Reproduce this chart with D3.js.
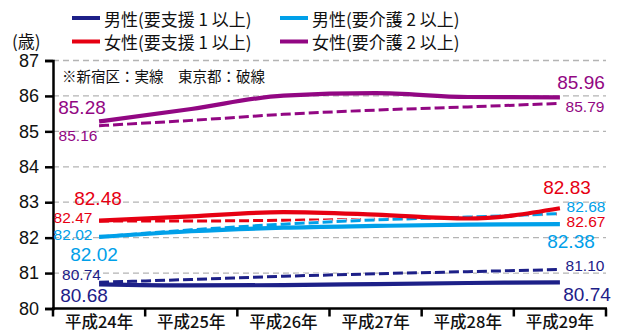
<!DOCTYPE html>
<html>
<head>
<meta charset="utf-8">
<script src="https://cdn.jsdelivr.net/npm/d3@7"></script>
<style>
  html, body { margin: 0; padding: 0; background: #fff; }
  svg { display: block; }
</style>
</head>
<body>
<svg id="chart" width="623" height="334"></svg>
<script>
// 年度（平成）
const years = ["平成24年", "平成25年", "平成26年", "平成27年", "平成28年", "平成29年"];
const yTicks = [80, 81, 82, 83, 84, 85, 86, 87];

// 新宿区（実線）
const maleSupport1Shinjuku = [80.68, 80.65, 80.66, 80.69, 80.72, 80.74];
const maleCare2Shinjuku    = [82.02, 82.18, 82.28, 82.33, 82.37, 82.38];
const femaleSupport1Shinjuku = [82.48, 82.60, 82.72, 82.65, 82.54, 82.83];
const femaleCare2Shinjuku  = [85.28, 85.63, 86.01, 86.08, 85.97, 85.96];

// 東京都（破線）
const maleSupport1Tokyo = [80.74, 80.82, 80.91, 80.98, 81.04, 81.10];
const maleCare2Tokyo    = [82.02, 82.22, 82.38, 82.50, 82.58, 82.68];
const femaleSupport1Tokyo = [82.47, 82.47, 82.49, 82.52, 82.58, 82.67];
const femaleCare2Tokyo  = [85.16, 85.31, 85.48, 85.60, 85.69, 85.79];

const legendLabels = ["男性(要支援 1 以上)", "男性(要介護 2 以上)", "女性(要支援 1 以上)", "女性(要介護 2 以上)"];
const colors = { navy: "#1d2088", blue: "#00a0e9", red: "#e60012", purple: "#920783" };

const svg = d3.select("#chart");
const plotLeft = 53, plotRight = 606, plotTop = 60.5, plotBottom = 308.5;

const x = d3.scaleBand().domain(years).range([plotLeft, plotRight]).padding(0);
const y = d3.scaleLinear().domain([80, 87]).range([plotBottom, plotTop]);
const cx = d => x(d) + x.bandwidth() / 2;

const numFont = "'Liberation Sans', Arial, sans-serif";
const jpFont = "'Noto Sans CJK JP', sans-serif";

// グリッド線
svg.append("g").selectAll("line")
  .data(yTicks.filter(t => t > 80))
  .join("line")
  .attr("x1", plotLeft).attr("x2", plotRight)
  .attr("y1", d => y(d)).attr("y2", d => y(d))
  .attr("stroke", "#b4b4b4").attr("stroke-width", 1.3)
  .attr("stroke-dasharray", "6,4");

// Y軸
const yAxis = svg.append("g")
  .attr("transform", `translate(${plotLeft},0)`)
  .call(d3.axisLeft(y).tickValues(yTicks).tickFormat(d3.format("d")).tickSize(8).tickPadding(6));
yAxis.select(".domain").attr("stroke", "#000").attr("stroke-width", 2.5);
yAxis.selectAll(".tick line").attr("stroke", "#000").attr("stroke-width", 2.5);
yAxis.selectAll(".tick text")
  .attr("font-family", numFont).attr("font-size", 18).attr("fill", "#111");

// X軸（区切りの目盛）
const xAxis = svg.append("g").attr("transform", `translate(0,${plotBottom})`);
xAxis.append("line").attr("x1", plotLeft - 1).attr("x2", plotRight + 1)
  .attr("stroke", "#000").attr("stroke-width", 2.5);
const bounds = years.map(d => x(d)).concat([plotRight]);
xAxis.selectAll("line.sep").data(bounds).join("line").attr("class", "sep")
  .attr("x1", d => d).attr("x2", d => d).attr("y1", 0).attr("y2", 8)
  .attr("stroke", "#000").attr("stroke-width", 2.5);
xAxis.selectAll("text").data(years).join("text")
  .attr("x", d => cx(d)).attr("y", 19.5)
  .attr("text-anchor", "middle")
  .attr("font-family", jpFont).attr("font-size", 16.5).attr("font-weight", 500)
  .attr("fill", "#111").text(d => d);

// 単位
svg.append("text").attr("x", 12).attr("y", 40)
  .attr("dominant-baseline", "central")
  .attr("font-family", jpFont).attr("font-size", 17).attr("fill", "#111").text("(歳)");

// 注記
svg.append("text").attr("x", 62).attr("y", 75)
  .attr("dominant-baseline", "central")
  .attr("font-family", jpFont).attr("font-size", 14.5).attr("fill", "#111")
  .text("※新宿区：実線　東京都：破線");

const line = d3.line().x((d, i) => cx(years[i])).y(d => y(d)).curve(d3.curveMonotoneX);

const dashed = [
  { v: maleSupport1Tokyo, c: colors.navy },
  { v: femaleSupport1Tokyo, c: colors.red },
  { v: maleCare2Tokyo, c: colors.blue },
  { v: femaleCare2Tokyo, c: colors.purple }
];
const solid = [
  { v: maleSupport1Shinjuku, c: colors.navy },
  { v: maleCare2Shinjuku, c: colors.blue },
  { v: femaleSupport1Shinjuku, c: colors.red },
  { v: femaleCare2Shinjuku, c: colors.purple }
];

// 東京都：破線（白い縁取り付き）
dashed.forEach(s => {
  svg.append("path").datum(s.v).attr("d", line)
    .attr("fill", "none").attr("stroke", "#fff").attr("stroke-width", 4.5)
    .attr("stroke-dasharray", "10,4");
  svg.append("path").datum(s.v).attr("d", line)
    .attr("fill", "none").attr("stroke", s.c).attr("stroke-width", 3)
    .attr("stroke-dasharray", "10,4");
});

// 新宿区：実線
solid.forEach(s => {
  svg.append("path").datum(s.v).attr("d", line)
    .attr("fill", "none").attr("stroke", s.c).attr("stroke-width", 4.2)
    .attr("stroke-linecap", "butt");
});

// 数値ラベル
const first = 0, last = years.length - 1;
const labels = [
  // 左端
  { val: femaleCare2Shinjuku[first], c: colors.purple, x: 82, y: 107, big: true },
  { val: femaleCare2Tokyo[first], c: colors.purple, x: 78, y: 135, big: false },
  { val: femaleSupport1Shinjuku[first], c: colors.red, x: 98, y: 198.5, big: true },
  { val: femaleSupport1Tokyo[first], c: colors.red, x: 73, y: 217.5, big: false },
  { val: maleCare2Tokyo[first], c: colors.blue, x: 73, y: 234.5, big: false },
  { val: maleCare2Shinjuku[first], c: colors.blue, x: 94, y: 254.5, big: true },
  { val: maleSupport1Tokyo[first], c: colors.navy, x: 81.5, y: 274, big: false },
  { val: maleSupport1Shinjuku[first], c: colors.navy, x: 84, y: 295, big: true },
  // 右端
  { val: femaleCare2Shinjuku[last], c: colors.purple, x: 581, y: 82.5, big: true },
  { val: femaleCare2Tokyo[last], c: colors.purple, x: 585, y: 106, big: false },
  { val: femaleSupport1Shinjuku[last], c: colors.red, x: 567, y: 187.5, big: true },
  { val: maleCare2Tokyo[last], c: colors.blue, x: 586, y: 206, big: false },
  { val: femaleSupport1Tokyo[last], c: colors.red, x: 586, y: 221.5, big: false },
  { val: maleCare2Shinjuku[last], c: colors.blue, x: 571, y: 241, big: true },
  { val: maleSupport1Tokyo[last], c: colors.navy, x: 585, y: 265.5, big: false },
  { val: maleSupport1Shinjuku[last], c: colors.navy, x: 587, y: 294.5, big: true }
];
svg.append("g").selectAll("text").data(labels).join("text")
  .attr("x", d => d.x).attr("y", d => d.y)
  .attr("text-anchor", "middle").attr("dominant-baseline", "central")
  .attr("font-family", numFont)
  .attr("font-size", d => d.big ? 19 : 15.5)
  .attr("fill", d => d.c)
  .text(d => d3.format(".2f")(d.val));

// 凡例
const legendItems = [
  { label: legendLabels[0], c: colors.navy, x: 72, y: 18 },
  { label: legendLabels[1], c: colors.blue, x: 280, y: 18 },
  { label: legendLabels[2], c: colors.red, x: 72, y: 41.5 },
  { label: legendLabels[3], c: colors.purple, x: 280, y: 41.5 }
];
const lg = svg.append("g").selectAll("g").data(legendItems).join("g")
  .attr("transform", d => `translate(${d.x},${d.y})`);
lg.append("line").attr("x1", 0).attr("x2", 28)
  .attr("stroke", d => d.c).attr("stroke-width", 4);
lg.append("text").attr("x", 32).attr("y", 0)
  .attr("dominant-baseline", "central")
  .attr("font-family", jpFont).attr("font-size", 17).attr("fill", "#111")
  .text(d => d.label);
</script>
</body>
</html>
